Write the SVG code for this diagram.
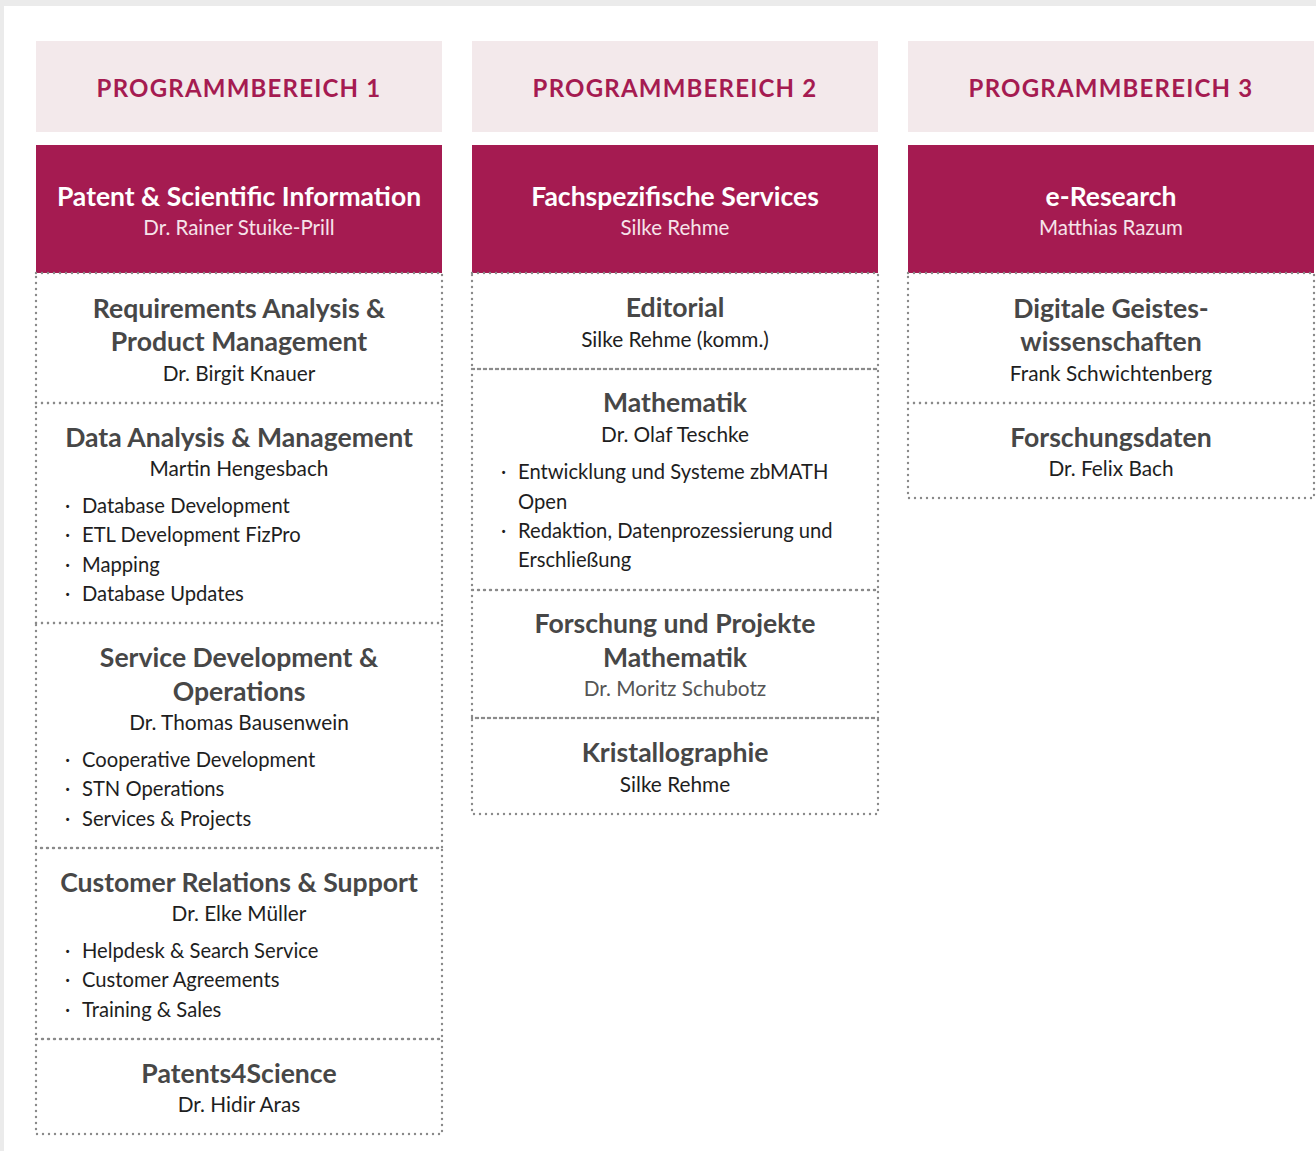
<svg xmlns="http://www.w3.org/2000/svg" width="1316" height="1151" viewBox="0 0 1316 1151">
<style>
.hdr{fill:#f3e9eb}
.top{fill:#a51b51}
.box{fill:none;stroke:#8a8a8a;stroke-width:2.4;stroke-dasharray:0 6;stroke-linecap:round}
.pb{font-family:Lato,"Liberation Sans",sans-serif;font-weight:700;font-size:24px;fill:#a51b51;text-anchor:middle;letter-spacing:1.2px}
.tt{font-family:Lato,"Liberation Sans",sans-serif;font-weight:700;font-size:26.5px;fill:#fff;text-anchor:middle}
.ts{font-family:Lato,"Liberation Sans",sans-serif;font-size:20.5px;fill:#f6e3ea;text-anchor:middle}
.h{font-family:Lato,"Liberation Sans",sans-serif;font-weight:700;font-size:26.6px;fill:#474747;text-anchor:middle}
.n{font-family:Lato,"Liberation Sans",sans-serif;font-size:20.8px;fill:#1e1e1e;text-anchor:middle}
.b{font-family:Lato,"Liberation Sans",sans-serif;font-size:20.2px;fill:#1e1e1e}
</style>
<rect x="0" y="0" width="1316" height="1151" fill="#ebebeb"/>
<rect x="4" y="6" width="1312" height="1145" fill="#fff"/>

<g id="col1">
<g id="pb1"><rect class="hdr" x="36" y="41" width="406" height="91"/><text class="pb" x="239" y="97">PROGRAMMBEREICH 1</text></g>
<g id="psi"><rect class="top" x="36" y="145" width="406" height="128"/><text class="tt" x="239" y="206">Patent &amp; Scientific Information</text><text class="ts" x="239" y="235">Dr. Rainer Stuike-Prill</text></g>
<g id="rapm"><rect class="box" x="36" y="273" width="406" height="130"/><text class="h" x="239" y="318">Requirements Analysis &amp;</text><text class="h" x="239" y="351">Product Management</text><text class="n" x="239" y="381">Dr. Birgit Knauer</text></g>
<g id="dam"><rect class="box" x="36" y="403" width="406" height="220"/><text class="h" x="239" y="447">Data Analysis &amp; Management</text><text class="n" x="239" y="476">Martin Hengesbach</text>
<text class="b" x="65" y="513">·</text><text class="b" x="82" y="513">Database Development</text>
<text class="b" x="65" y="542">·</text><text class="b" x="82" y="542">ETL Development FizPro</text>
<text class="b" x="65" y="572">·</text><text class="b" x="82" y="572">Mapping</text>
<text class="b" x="65" y="601">·</text><text class="b" x="82" y="601">Database Updates</text></g>
<g id="sdo"><rect class="box" x="36" y="623" width="406" height="225"/><text class="h" x="239" y="667">Service Development &amp;</text><text class="h" x="239" y="701">Operations</text><text class="n" x="239" y="730">Dr. Thomas Bausenwein</text>
<text class="b" x="65" y="767">·</text><text class="b" x="82" y="767">Cooperative Development</text>
<text class="b" x="65" y="796">·</text><text class="b" x="82" y="796">STN Operations</text>
<text class="b" x="65" y="826">·</text><text class="b" x="82" y="826">Services &amp; Projects</text></g>
<g id="crs"><rect class="box" x="36" y="848" width="406" height="191"/><text class="h" x="239" y="892">Customer Relations &amp; Support</text><text class="n" x="239" y="921">Dr. Elke Müller</text>
<text class="b" x="65" y="958">·</text><text class="b" x="82" y="958">Helpdesk &amp; Search Service</text>
<text class="b" x="65" y="987">·</text><text class="b" x="82" y="987">Customer Agreements</text>
<text class="b" x="65" y="1017">·</text><text class="b" x="82" y="1017">Training &amp; Sales</text></g>
<g id="p4s"><rect class="box" x="36" y="1039" width="406" height="95"/><text class="h" x="239" y="1083">Patents4Science</text><text class="n" x="239" y="1112">Dr. Hidir Aras</text></g>
</g>

<g id="col2">
<g id="pb2"><rect class="hdr" x="472" y="41" width="406" height="91"/><text class="pb" x="675" y="97">PROGRAMMBEREICH 2</text></g>
<g id="fs"><rect class="top" x="472" y="145" width="406" height="128"/><text class="tt" x="675" y="206">Fachspezifische Services</text><text class="ts" x="675" y="235">Silke Rehme</text></g>
<g id="ed"><rect class="box" x="472" y="273" width="406" height="96"/><text class="h" x="675" y="317">Editorial</text><text class="n" x="675" y="347">Silke Rehme (komm.)</text></g>
<g id="math"><rect class="box" x="472" y="369" width="406" height="221"/><text class="h" x="675" y="412">Mathematik</text><text class="n" x="675" y="442">Dr. Olaf Teschke</text>
<text class="b" x="501" y="479">·</text><text class="b" x="518" y="479">Entwicklung und Systeme zbMATH</text>
<text class="b" x="518" y="509">Open</text>
<text class="b" x="501" y="538">·</text><text class="b" x="518" y="538">Redaktion, Datenprozessierung und</text>
<text class="b" x="518" y="567">Erschließung</text></g>
<g id="fpm"><rect class="box" x="472" y="590" width="406" height="128"/><text class="h" x="675" y="633">Forschung und Projekte</text><text class="h" x="675" y="667">Mathematik</text><text class="n" x="675" y="696" style="fill:#555">Dr. Moritz Schubotz</text></g>
<g id="kris"><rect class="box" x="472" y="718" width="406" height="96"/><text class="h" x="675" y="762">Kristallographie</text><text class="n" x="675" y="792">Silke Rehme</text></g>
</g>

<g id="col3">
<g id="pb3"><rect class="hdr" x="908" y="41" width="406" height="91"/><text class="pb" x="1111" y="97">PROGRAMMBEREICH 3</text></g>
<g id="er"><rect class="top" x="908" y="145" width="406" height="128"/><text class="tt" x="1111" y="206">e-Research</text><text class="ts" x="1111" y="235">Matthias Razum</text></g>
<g id="dg"><rect class="box" x="908" y="273" width="406" height="130"/><text class="h" x="1111" y="318">Digitale Geistes-</text><text class="h" x="1111" y="351">wissenschaften</text><text class="n" x="1111" y="381">Frank Schwichtenberg</text></g>
<g id="fd"><rect class="box" x="908" y="403" width="406" height="95"/><text class="h" x="1111" y="447">Forschungsdaten</text><text class="n" x="1111" y="476">Dr. Felix Bach</text></g>
</g>

<g id="connectors"></g>
</svg>
